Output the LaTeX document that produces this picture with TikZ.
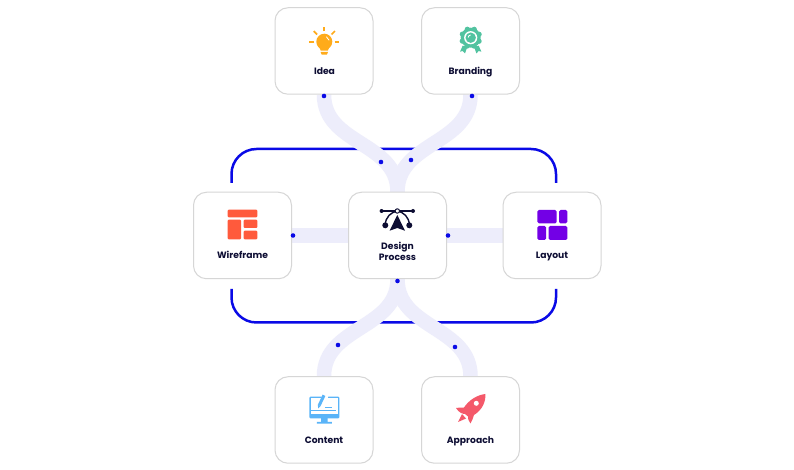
\documentclass[tikz,border=0pt]{standalone}
\usepackage{fontspec}
\usetikzlibrary{backgrounds}
\setmainfont{Poppins}
\definecolor{bandcol}{HTML}{EDEDFB}
\definecolor{framecol}{HTML}{0A0AE6}
\definecolor{edgecol}{HTML}{D6D6D6}
\definecolor{inkcol}{HTML}{0D0D33}
\definecolor{bulbcol}{HTML}{FFAB1A}
\definecolor{badgecol}{HTML}{52C3A0}
\definecolor{wirecol}{HTML}{FF5A3C}
\definecolor{layoutcol}{HTML}{7300E6}
\definecolor{screencol}{HTML}{5AB4F8}
\definecolor{rocketcol}{HTML}{F4596A}
\tikzset{
  card/.style={draw=edgecol,line width=1pt,fill=white,rounded corners=13pt,minimum width=98pt,minimum height=86.5pt,inner sep=0pt},
  cardtext/.style={text=inkcol,font=\fontsize{9.2}{10.7}\selectfont\bfseries,align=center,inner sep=0pt},
  band/.style={draw=bandcol,line width=14.5pt},
  frameline/.style={draw=framecol,line width=2.5pt,rounded corners=25pt},
  bluedot/.style={circle,fill=framecol,minimum size=4.6pt,inner sep=0pt}
}
\begin{document}
\begin{tikzpicture}[x=1pt,y=1pt]
 \useasboundingbox (0,0) rectangle (794,470);
 \node[card] at (324,419)  (idea) {};
 \node[card] at (470.5,419)  (branding) {};
 \node[card] at (242.5,234.5)  (wireframe) {};
 \node[card] at (397.5,234.5)  (design) {};
 \node[card] at (552,234.5)  (layout) {};
 \node[card] at (324,50)  (content) {};
 \node[card] at (470.5,50)  (approach) {};

 \coordinate (tl) at (231.5,287);
 \coordinate (tr) at (556,287);
 \coordinate (bl) at (231.5,181);
 \coordinate (br) at (556,181);
 \begin{pgfonlayer}{background}
 \fill[white] (0,0) rectangle (794,470);
 \draw[frameline] (tl)--(231.5,321)--(556,321)--(tr);
 \draw[frameline] (bl)--(231.5,147.5)--(556,147.5)--(br);
 \draw[band] (idea.south)to[out=270, in=90, looseness=1.05](design.north);
 \draw[band] (branding.south)to[out=270, in=90, looseness=1.05](design.north);
 \draw[band] (design.south)to[out=270, in=90, looseness=1.05](content.north);
 \draw[band] (design.south)to[out=270, in=90, looseness=1.05](approach.north);
 \draw[band] (wireframe.east)--(design.west);
 \draw[band] (design.east)--(layout.west);
 \end{pgfonlayer}

 \node[bluedot] at (324,374)  (d1) {};
 \node[bluedot] at (472,374)  (d2) {};
 \node[bluedot] at (381,308)  (d3) {};
 \node[bluedot] at (411,310)  (d4) {};
 \node[bluedot] at (293,234.5)  (d5) {};
 \node[bluedot] at (448,234.5)  (d6) {};
 \node[bluedot] at (397.5,189)  (d7) {};
 \node[bluedot] at (338,125)  (d8) {};
 \node[bluedot] at (455,123)  (d9) {};

 \node[cardtext,anchor=base] at (324.5,395.3)  (idealabel) {Idea};
 \node[cardtext,anchor=base] at (470.5,395.3)  (brandinglabel) {Branding};
 \node[cardtext,anchor=base] at (242.5,211)  (wireframelabel) {Wireframe};
 \node[cardtext] at (397.5,218.7)  (designlabel) {Design\\Process};
 \node[cardtext,anchor=base] at (552,211)  (layoutlabel) {Layout};
 \node[cardtext,anchor=base] at (324,26.7)  (contentlabel) {Content};
 \node[cardtext,anchor=base] at (470.5,26.7)  (approachlabel) {Approach};

 % bulb
 \begin{scope}[shift={(324.3,428.3)}]
  \fill[bulbcol] (0,0) circle (8);
  \fill[bulbcol] (-5.5,-4.5)--(5.5,-4.5)--(3.5,-9)--(-3.5,-9)--cycle;
  \fill[bulbcol] (-3.8,-10.3)--(3.8,-10.3)--(2.5,-13)--(-2.5,-13)--cycle;
  \draw[white,line width=0.8pt,line cap=round] (2.2,4.8) arc (60:15:5.4);
  \foreach \a in {0,45,90,135,180}
   \draw[bulbcol,line width=1.7pt] (\a:10.2)--(\a:15);
 \end{scope}
 % badge
 \begin{scope}[shift={(470.7,432.3)}]
  \fill[badgecol] (-8,-8)--(-10.7,-14)--(-8,-13.3)--(-5.7,-15.7)--(-3.3,-9)--cycle;
  \fill[badgecol] (8,-8)--(10.7,-14)--(8,-13.3)--(5.7,-15.7)--(3.3,-9)--cycle;
  \fill[badgecol] (0,0) circle (10);
  \foreach \a in {0,45,...,315}
   \fill[badgecol] (\a+22:9) circle (2.7);
  \fill[white] (0,0) circle (6.6);
  \fill[badgecol] (0,0) circle (5.2);
  \draw[white,line width=0.8pt] (-2.6,0.2) arc (175:95:2.8);
 \end{scope}
 % pen tool
 \begin{scope}[shift={(397.3,259)}]
  \draw[inkcol,line width=1.2pt] (-15.7,0)--(15.7,0);
  \draw[inkcol,line width=1.4pt] (-12,-14) .. controls (-12,-6) and (-6,-1) .. (0,0);
  \draw[inkcol,line width=1.4pt] (12,-14) .. controls (12,-6) and (6,-1) .. (0,0);
  \fill[inkcol] (-15.7,0) circle (2);
  \fill[inkcol] (15.7,0) circle (2);
  \fill[inkcol] (-12,-14.3) circle (3);
  \fill[inkcol] (12,-14.3) circle (3);
  \draw[inkcol,fill=white,line width=1pt] (0,0) circle (2.2);
  \fill[inkcol] (0,-4)--(7.7,-19.7)--(0,-17)--(-7.7,-19.7)--cycle;
 \end{scope}
 % wireframe
 \fill[wirecol,rounded corners=1pt] (227.7,260.3) rectangle (257.3,252.7);
 \fill[wirecol,rounded corners=1pt] (227.7,250.3) rectangle (241,230.7);
 \fill[wirecol,rounded corners=1pt] (243.7,250.3) rectangle (257.3,242);
 \fill[wirecol,rounded corners=1pt] (243.7,239.3) rectangle (257.3,230.7);
 % layout
 \fill[layoutcol,rounded corners=1.5pt] (537.3,260) rectangle (556.7,246.7);
 \fill[layoutcol,rounded corners=1.5pt] (559,260) rectangle (567.3,246.7);
 \fill[layoutcol,rounded corners=1.5pt] (537.3,244) rectangle (546,230);
 \fill[layoutcol,rounded corners=1.5pt] (548.7,244) rectangle (567.3,230);
 % monitor
 \begin{scope}[shift={(324.3,62)}]
  \fill[screencol,rounded corners=1pt] (-15,11.3) rectangle (15,-10.3);
  \fill[white] (-13.2,9.7) rectangle (13.2,-6);
  \fill[screencol] (-3.2,-10)--(3.2,-10)--(3.2,-14)--(7.5,-14)--(7.5,-15.6)--(-7.5,-15.6)--(-7.5,-14)--(-3.2,-14)--cycle;
  \fill[white] (-2,13.6)--(4,11.6)--(3,9)--(-3,9)--cycle;
  \draw[screencol,line width=3pt] (-0.3,12.7)--(-5,2.8);
  \fill[screencol] (-6.4,3.4)--(-3.6,2.2)--(-6.2,-0.4)--cycle;
  \draw[screencol,line width=1pt] (0.5,0.5)--(7.5,0.5);
  \draw[screencol,line width=1pt] (-13,-2.3)--(12,-2.3);
 \end{scope}
 % rocket
 \fill[rocketcol] (485.3,76) .. controls (486,68) and (482,60) .. (474,55)
   .. controls (473,52) and (472,49) .. (470.5,46.5) .. controls (468.5,49) and (467.5,52) .. (468,53.5)
   -- (465,56) .. controls (463,56) and (459,57) .. (456,62)
   .. controls (459,62) and (462,63) .. (464,62.5) .. controls (469,70) and (477,75) .. (485.3,76) -- cycle;
 \fill[rocketcol] (466,51.5)--(458,48)--(462,56)--cycle;
 \fill[white] (476.3,66.7) circle (2.5);
\end{tikzpicture}
\end{document}
